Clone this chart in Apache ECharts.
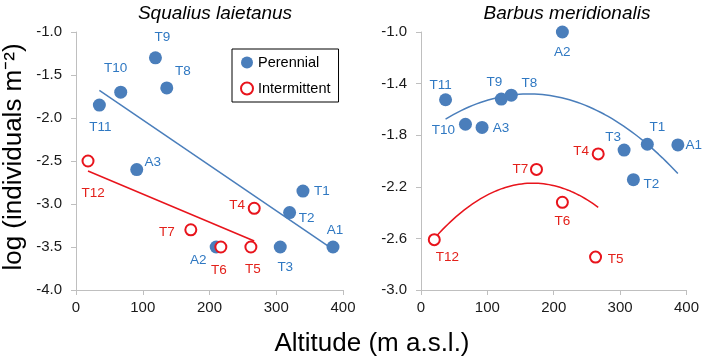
<!DOCTYPE html>
<html><head><meta charset="utf-8">
<script src="https://cdn.jsdelivr.net/npm/echarts@6/dist/echarts.min.js"></script>
<style>html,body{margin:0;padding:0;background:#fff}#c{width:702px;height:359px}</style>
</head><body><div id="c"></div>
<script>
// ---- data ----
const sqPerNames = ['T9','T8','T10','T11','A3','T1','T2','A1','T3','A2'];
const sqPerX = [119,136,67,35,91,340,320,385,306,210];
const sqPerY = [-1.3,-1.65,-1.7,-1.85,-2.6,-2.85,-3.1,-3.5,-3.5,-3.5];
const sqIntNames = ['T12','T4','T7','T6','T5'];
const sqIntX = [18,267,172,217,262];
const sqIntY = [-2.5,-3.05,-3.3,-3.5,-3.5];
const baPerNames = ['A2','T11','T9','T8','T10','A3','T3','T1','A1','T2'];
const baPerX = [213,37,121,136,67,92,306,341,387,320];
const baPerY = [-1.0,-1.525,-1.52,-1.49,-1.715,-1.74,-1.915,-1.87,-1.875,-2.145];
const baIntNames = ['T12','T7','T6','T5','T4'];
const baIntX = [20,174,213,263,267];
const baIntY = [-2.61,-2.065,-2.32,-2.745,-1.945];
const xTicks = [0,100,200,300,400];
const sqYTicks = [-4.0,-3.5,-3.0,-2.5,-2.0,-1.5,-1.0];
const baYTicks = [-3.0,-2.6,-2.2,-1.8,-1.4,-1.0];
const titles = ['Squalius laietanus','Barbus meridionalis'];
const legendNames = ['Perennial','Intermittent'];

// ---- label placement (style) ----
const offsL = {T9:[7,-21],T8:[16,-17],T10:[-5,-24],T11:[1,22],A3:[16,-7],T1:[19,0],T2:[17,6],A1:[2,-17],T3:[5,20],A2:[-18,13]};
const offsLI = {T12:[5,32],T4:[-17,-3],T7:[-24,2],T6:[-2,23],T5:[2,22]};
const offsR = {A2:[0,20],T11:[-5,-14],T9:[-7,-17],T8:[18,-12],T10:[-22,6],A3:[19,1],T3:[-11,-13],T1:[10,-17],A1:[16,0],T2:[18,5]};
const offsRI = {T4:[-17,-3],T7:[-16,0],T6:[0,19],T12:[13,18],T5:[20,2]};

const BLUE = '#4a7ebb', BLUE_T = '#2f78c2', RED = '#e8141c', RED_T = '#e3211b';
const FONT = 'Liberation Sans, Arial';

function pts(names, xs, ys, offs) {
  return names.map((n, i) => ({name: n, value: [xs[i], ys[i]], label: {offset: offs[n]}}));
}
function linFit(xs, ys) {
  const n = xs.length, mx = xs.reduce((a,b)=>a+b)/n, my = ys.reduce((a,b)=>a+b)/n;
  let sxy = 0, sxx = 0;
  xs.forEach((x,i)=>{sxy += (x-mx)*(ys[i]-my); sxx += (x-mx)*(x-mx);});
  const b = sxy/sxx, a = my - b*mx;
  const lo = Math.min(...xs), hi = Math.max(...xs);
  return [[lo, a+b*lo],[hi, a+b*hi]];
}
function quadFit(xs, ys) {
  const S = [0,0,0,0,0], T = [0,0,0];
  xs.forEach((x,i)=>{ for(let k=0;k<5;k++) S[k]+=Math.pow(x,k); for(let k=0;k<3;k++) T[k]+=ys[i]*Math.pow(x,k); });
  const M = [[S[0],S[1],S[2],T[0]],[S[1],S[2],S[3],T[1]],[S[2],S[3],S[4],T[2]]];
  for (let c=0;c<3;c++){ for(let r=c+1;r<3;r++){ const f=M[r][c]/M[c][c]; for(let k=c;k<4;k++) M[r][k]-=f*M[c][k]; } }
  const co=[0,0,0];
  for (let r=2;r>=0;r--){ let s=M[r][3]; for(let k=r+1;k<3;k++) s-=M[r][k]*co[k]; co[r]=s/M[r][r]; }
  const lo = Math.min(...xs), hi = Math.max(...xs), out=[];
  for (let i=0;i<=60;i++){ const x = lo+(hi-lo)*i/60; out.push([x, co[0]+co[1]*x+co[2]*x*x]); }
  return out;
}

const axisLineStyle = {lineStyle:{color:'#bfbfbf', width:1}};
const tickStyle = {show:true, inside:false, length:5, lineStyle:{color:'#bfbfbf'}};
const lblStyle = {color:'#1a1a1a', fontSize:15, fontFamily:FONT};

function xAx(idx){ return {type:'value', gridIndex:idx, min:xTicks[0], max:xTicks[xTicks.length-1], interval:100,
  axisLine:axisLineStyle, axisTick:tickStyle, splitLine:{show:false},
  axisLabel:Object.assign({margin:10}, lblStyle)}; }
function yAx(idx, ticks){ return {type:'value', gridIndex:idx, min:ticks[0], max:ticks[ticks.length-1],
  axisLine:Object.assign({show:true}, axisLineStyle),
  axisTick:Object.assign({customValues:ticks}, tickStyle), splitLine:{show:false},
  axisLabel:Object.assign({margin:14, customValues:ticks, formatter:v=>v.toFixed(1)}, lblStyle)}; }

const perLabel = {show:true, position:'inside', formatter:'{b}', color:BLUE_T, fontSize:13.5, fontFamily:FONT};
const intLabel = {show:true, position:'inside', formatter:'{b}', color:RED_T, fontSize:13.5, fontFamily:FONT};
function perSeries(name, idx, data){ return {name, type:'scatter', xAxisIndex:idx, yAxisIndex:idx, symbol:'circle', symbolSize:13,
  itemStyle:{color:BLUE, opacity:1}, label:perLabel, data, z:3}; }
function intSeries(name, idx, data){ return {name, type:'scatter', xAxisIndex:idx, yAxisIndex:idx, symbol:'circle', symbolSize:11,
  itemStyle:{color:'#fff', borderColor:RED, borderWidth:2, opacity:1}, label:intLabel, data, z:4}; }
function lineSeries(idx, data, color){ return {type:'line', xAxisIndex:idx, yAxisIndex:idx, data, showSymbol:false, symbol:'none',
  lineStyle:{color, width:1.5}, silent:true, z:2, animation:false}; }

const chart = echarts.init(document.getElementById('c'), null, {renderer:'canvas'});
chart.setOption({
  animation:false,
  backgroundColor:'#fff',
  title:[
    {text:titles[0], left:210, top:-1, textAlign:'center', textStyle:{fontStyle:'italic', fontWeight:'normal', fontSize:19, color:'#000', fontFamily:FONT}},
    {text:titles[1], left:562, top:-1, textAlign:'center', textStyle:{fontStyle:'italic', fontWeight:'normal', fontSize:19, color:'#000', fontFamily:FONT}}
  ],
  legend:{data:legendNames, orient:'vertical', left:232, top:49, itemWidth:12, itemHeight:12, itemGap:11,
    padding:[6,8,6,8], borderColor:'#000', borderWidth:1, backgroundColor:'#fff',
    textStyle:{fontSize:14.5, color:'#000', fontFamily:FONT}},
  grid:[
    {left:76, width:267, top:32, height:258},
    {left:421, width:267, top:32, height:258}
  ],
  xAxis:[xAx(0), xAx(1)],
  yAxis:[yAx(0, sqYTicks), yAx(1, baYTicks)],
  graphic:[
    {type:'text', x:14, y:157, rotation:Math.PI/2, style:{text:'log (individuals m⁻²)', fontSize:26, fontFamily:FONT, fill:'#000', textAlign:'center', textVerticalAlign:'middle'}},
    {type:'text', x:372, y:344, style:{text:'Altitude (m a.s.l.)', fontSize:26, fontFamily:FONT, fill:'#000', textAlign:'center', textVerticalAlign:'middle'}}
  ],
  series:[
    lineSeries(0, linFit(sqPerX, sqPerY), BLUE),
    lineSeries(0, linFit(sqIntX, sqIntY), RED),
    perSeries(legendNames[0], 0, pts(sqPerNames, sqPerX, sqPerY, offsL)),
    intSeries(legendNames[1], 0, pts(sqIntNames, sqIntX, sqIntY, offsLI)),
    lineSeries(1, quadFit(baPerX, baPerY), BLUE),
    lineSeries(1, quadFit(baIntX, baIntY), RED),
    perSeries(legendNames[0], 1, pts(baPerNames, baPerX, baPerY, offsR)),
    intSeries(legendNames[1], 1, pts(baIntNames, baIntX, baIntY, offsRI))
  ]
});
</script></body></html>
